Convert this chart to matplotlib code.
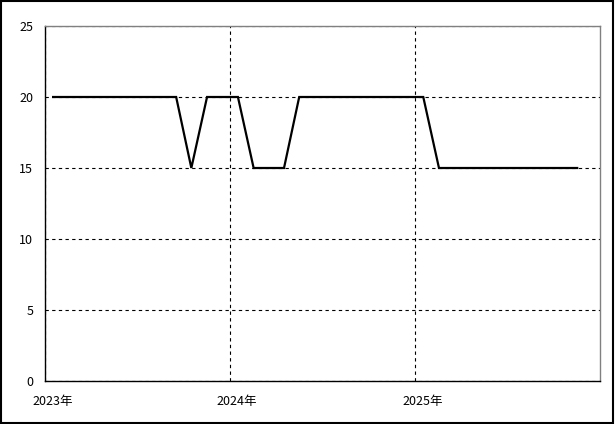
import matplotlib
matplotlib.use("Agg")
import matplotlib.pyplot as plt
import matplotlib.transforms as mtransforms
from matplotlib.patches import Rectangle
import pandas as pd

plt.rcParams['font.family'] = ['Noto Sans CJK JP', 'DejaVu Sans']

# monthly values, Jan 2023 .. Nov 2025
months = ["2023-01", "2023-02", "2023-03", "2023-04", "2023-05", "2023-06",
          "2023-07", "2023-08", "2023-09", "2023-10", "2023-11", "2023-12",
          "2024-01", "2024-02", "2024-03", "2024-04", "2024-05", "2024-06",
          "2024-07", "2024-08", "2024-09", "2024-10", "2024-11", "2024-12",
          "2025-01", "2025-02", "2025-03", "2025-04", "2025-05", "2025-06",
          "2025-07", "2025-08", "2025-09", "2025-10", "2025-11"]
values = [20, 20, 20, 20, 20, 20, 20, 20, 20, 15, 20, 20,
          20, 15, 15, 15, 20, 20, 20, 20, 20, 20, 20, 20,
          20, 15, 15, 15, 15, 15, 15, 15, 15, 15, 15]
year_ticks = ["2023-01-01", "2024-01-01", "2025-01-01"]
year_labels = ["2023年", "2024年", "2025年"]
y_ticks = [0, 5, 10, 15, 20, 25]

dates = pd.to_datetime(months) + pd.Timedelta(days=16)

fig = plt.figure(figsize=(6.15, 4.24), dpi=100)
ax = fig.add_axes([45 / 615, 1 - 381 / 424, 555 / 615, 355 / 424])

ax.plot(dates, values, color='black', lw=1.6, solid_joinstyle='miter')

ax.set_xlim(pd.Timestamp("2023-01-01"), pd.Timestamp("2026-01-01"))
ax.set_ylim(0, 25)
ax.set_yticks(y_ticks)
ax.set_xticks(pd.to_datetime(year_ticks))
ax.set_xticklabels(year_labels)

ax.tick_params(axis='both', length=0, labelsize=9, colors='black')
ax.tick_params(axis='x', pad=10)
ax.tick_params(axis='y', pad=8.5)

# labels start a bit left of the tick, like the original
shift = mtransforms.ScaledTranslation(-13 / 100, 0, fig.dpi_scale_trans)
for lab in ax.get_xticklabels():
    lab.set_horizontalalignment('left')
    lab.set_transform(lab.get_transform() + shift)

ax.grid(True, color='black', lw=0.8, linestyle=(0, (3, 3)))
ax.set_axisbelow(True)

ax.spines['left'].set_color('black')
ax.spines['bottom'].set_color('black')
ax.spines['top'].set_color('#808080')
ax.spines['right'].set_color('#808080')
for s in ax.spines.values():
    s.set_linewidth(1.0)
    s.set_zorder(3)

fig.patches.append(Rectangle((0.5 / 615, 1.5 / 424), 612.5 / 615, 422 / 424,
                             transform=fig.transFigure, fill=False,
                             edgecolor='black', lw=1.5))

fig.savefig("out.png", dpi=100)
